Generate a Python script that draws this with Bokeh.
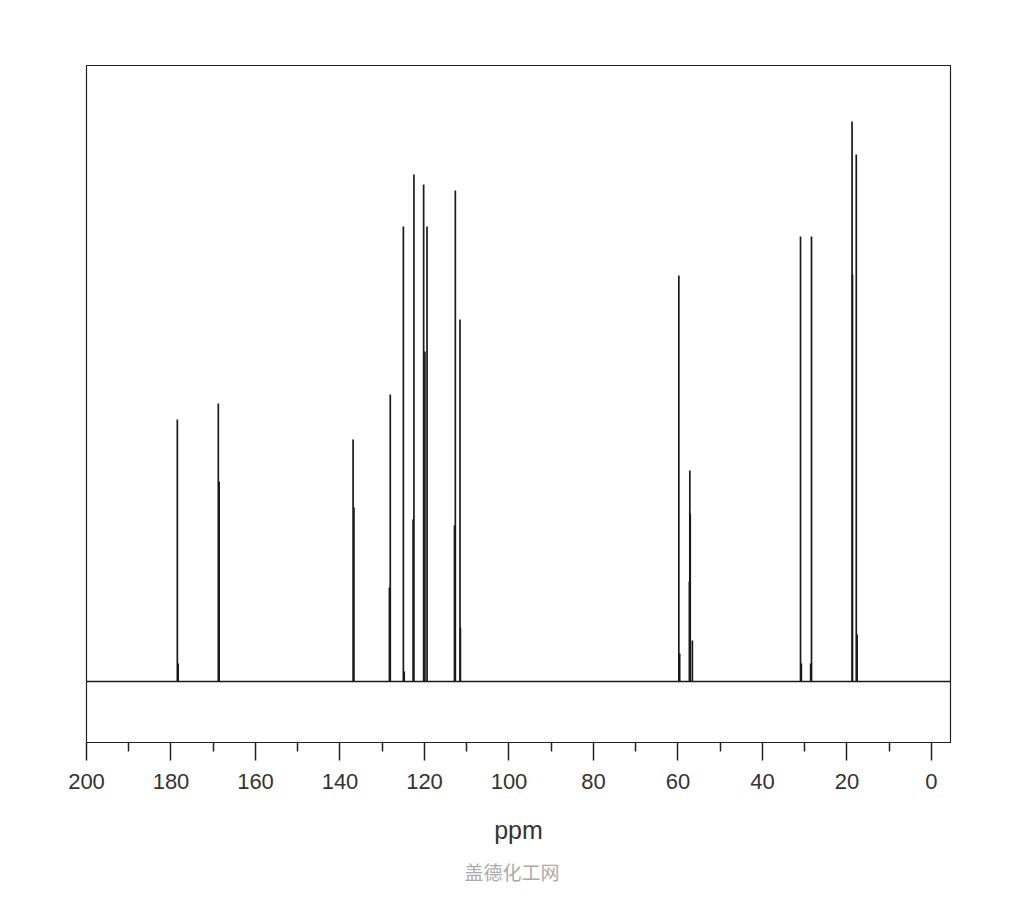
from bokeh.plotting import figure
from bokeh.models import FixedTicker, Span, Title, Range1d
from bokeh.embed import file_html
from bokeh.resources import INLINE

# Peak positions (ppm) and heights (arbitrary intensity units, baseline = 0)
peak_ppm = [178.5, 178.3, 168.8, 168.6, 136.9, 136.7, 128.1, 128.3,
            125.0, 124.8, 122.5, 122.7, 120.2, 119.9, 119.4, 112.7, 112.9,
            111.6, 111.5, 59.8, 59.6, 57.2, 57.1, 57.3, 56.6,
            31.0, 30.8, 28.4, 28.6, 18.8, 18.7, 17.8, 17.6]
peak_height = [262, 18, 278, 200, 242, 174, 287, 94,
               455, 10, 507, 162, 497, 330, 455, 491, 156,
               362, 54, 406, 28, 211, 168, 100, 41,
               445, 18, 445, 18, 560, 407, 527, 47]

major_ticks = [200, 180, 160, 140, 120, 100, 80, 60, 40, 20, 0]
minor_ticks = [190, 170, 150, 130, 110, 90, 70, 50, 30, 10]

p = figure(width=1008, height=895, output_backend="svg", toolbar_location=None,
           x_range=Range1d(200.0, -4.5), y_range=Range1d(-61, 616),
           min_border_left=86, min_border_right=58, min_border_top=65,
           min_border_bottom=153)

p.segment(x0=peak_ppm, y0=[0] * len(peak_ppm), x1=peak_ppm, y1=peak_height,
          line_color="#1a1a1a", line_width=1.7)
p.add_layout(Span(location=0, dimension="width", line_color="#1a1a1a", line_width=1.5))

p.grid.visible = False
p.yaxis.visible = False
p.outline_line_color = "#222222"
p.outline_line_width = 1.2
p.background_fill_color = "white"
p.border_fill_color = "white"

ax = p.xaxis[0]
ax.ticker = FixedTicker(ticks=major_ticks, minor_ticks=minor_ticks)
ax.axis_line_color = "#222222"
ax.axis_line_width = 1.2
ax.major_tick_in = 0
ax.major_tick_out = 18
ax.major_tick_line_width = 1.5
ax.major_tick_line_color = "#222222"
ax.minor_tick_in = 0
ax.minor_tick_out = 9
ax.minor_tick_line_width = 1.5
ax.minor_tick_line_color = "#222222"
ax.major_label_text_font = "Liberation Sans"
ax.major_label_text_font_size = "22px"
ax.major_label_text_color = "#333333"
ax.major_label_standoff = 13
ax.axis_label = "ppm"
ax.axis_label_text_font = "Liberation Sans"
ax.axis_label_text_font_size = "25px"
ax.axis_label_text_font_style = "normal"
ax.axis_label_text_color = "#333333"
ax.axis_label_standoff = 24

p.add_layout(Title(text="盖德化工网", align="left", offset=378, text_color="#aaaaaa",
                   text_font="Noto Sans CJK SC", text_font_size="19px",
                   text_font_style="normal", standoff=19), "below")

open("out.html", "w").write(file_html(p, INLINE))
